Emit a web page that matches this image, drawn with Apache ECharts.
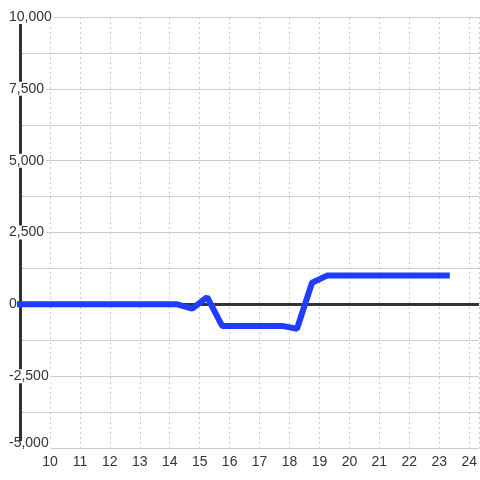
<!DOCTYPE html>
<html>
<head>
<meta charset="utf-8">
<script src="https://cdn.jsdelivr.net/npm/echarts@6/dist/echarts.min.js"></script>
<style>
  html, body { margin: 0; padding: 0; background: #fff; }
  #chart { width: 480px; height: 480px; }
</style>
</head>
<body>
<div id="chart"></div>
<script>
// series points (x, y)
const xValues = [9, 14.25, 14.75, 15.25, 15.75, 17.75, 18.25, 18.75, 19.25, 23.25];
const yValues = [0, 0, -150, 250, -750, -750, -850, 750, 1000, 1000];

const chart = echarts.init(document.getElementById("chart"), null, { renderer: "canvas" });

const textStyle = { color: "#333", fontSize: 14, fontFamily: '"Liberation Sans", Arial, sans-serif' };

chart.setOption({
  backgroundColor: "#fff",
  animation: false,
  grid: { left: 20, right: 0, top: 17, bottom: 32, containLabel: false },
  xAxis: {
    type: "value",
    min: 9,
    max: 24.33,
    interval: 1,
    axisLine: { show: false, onZero: false },
    axisTick: { show: false },
    axisLabel: Object.assign({}, textStyle, {
      margin: 7,
      showMinLabel: false,
      showMaxLabel: false,
      formatter: (v) => (v % 1 === 0 && v > 9 ? String(v) : ""),
    }),
    splitLine: { show: true, lineStyle: { color: "#ccc", width: 1, type: [2, 3] } },
  },
  yAxis: {
    type: "value",
    min: -5000,
    max: 10000,
    interval: 2500,
    z: 1,
    axisLine: { show: true, lineStyle: { color: "#333", width: 3 } },
    axisTick: { show: false },
    axisLabel: Object.assign({}, textStyle, {
      align: "left",
      margin: 13,
      backgroundColor: "#fff",
      padding: [0, 2, 0, 2],
      lineHeight: 14,
      formatter: (v) => (v === -5000 ? "{low|" + v.toLocaleString("en-US") + "}" : v.toLocaleString("en-US")),
      rich: {
        low: Object.assign({}, textStyle, { lineHeight: 14, padding: [0, 0, 10, 0] }),
      },
    }),
    splitLine: { show: true, lineStyle: { color: "#ccc", width: 1 } },
    minorTick: { show: false, splitNumber: 2 },
    minorSplitLine: { show: true, lineStyle: { color: "#ccc", width: 1 } },
  },
  series: [
    {
      type: "line",
      data: xValues.map((x, i) => [x, yValues[i]]),
      showSymbol: false,
      clip: false,
      z: 2,
      lineStyle: { color: "#1f3dff", width: 6, cap: "square" },
      markLine: {
        silent: true,
        z: 1,
        symbol: "none",
        label: { show: false },
        lineStyle: { color: "#333", width: 3, type: "solid" },
        data: [{ yAxis: 0 }],
      },
    },
  ],
});
</script>
</body>
</html>
